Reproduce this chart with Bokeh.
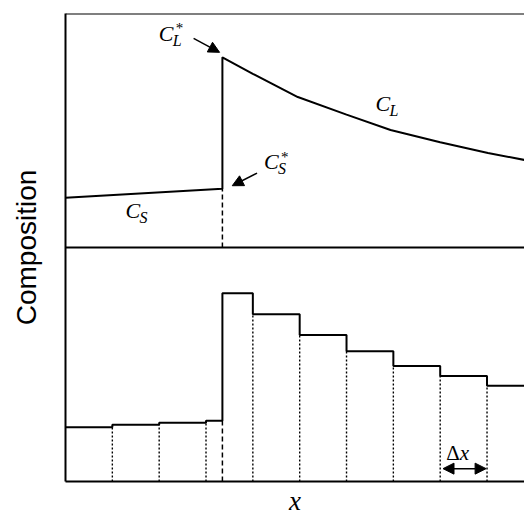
import numpy as np
from bokeh.plotting import figure
from bokeh.models import Range1d, Span, Label, Arrow, NormalHead, FixedTicker
from bokeh.embed import file_html
from bokeh.resources import INLINE

# x measured in units of the cell width (delta x)
x_interface = 3.35
x_end = 9.8

# Top panel: continuous composition profile (panel height = 1 composition unit)
solid_x = [0.0, 3.35]
solid_c = [0.213, 0.251]
liquid_x = [3.35, 4.0, 4.96, 6.0, 6.94, 8.0, 9.02, 9.8]
liquid_c = [0.813, 0.742, 0.643, 0.568, 0.502, 0.450, 0.404, 0.374]

# Bottom panel: cell-averaged composition
cell_edges = [0.0, 1.0, 2.0, 3.0, 3.35, 4.0, 5.0, 6.0, 7.0, 8.0, 9.0, 9.8]
cell_c = [0.232, 0.243, 0.251, 0.260, 0.804, 0.715, 0.626, 0.557, 0.494, 0.451, 0.409]

top_offset = 1.0  # top panel sits above the bottom panel

p = figure(width=524, height=518, output_backend="svg", toolbar_location=None,
           x_range=Range1d(0, x_end), y_range=Range1d(0, 2),
           min_border_left=65, min_border_right=0, min_border_top=13, min_border_bottom=35)
p.outline_line_color = None
p.grid.visible = False
p.background_fill_color = "white"
p.border_fill_color = "white"
for ax in (p.xaxis[0], p.yaxis[0]):
    ax.ticker = FixedTicker(ticks=[])
    ax.major_tick_line_color = None
    ax.minor_tick_line_color = None
    ax.major_tick_out = 0
    ax.major_tick_in = 0
    ax.minor_tick_out = 0
    ax.major_label_standoff = 0
    ax.major_label_text_font_size = "0px"
    ax.axis_line_width = 2
    ax.axis_line_color = "black"
    ax.axis_label_text_color = "black"
    ax.axis_label_text_font_style = "normal"

p.xaxis.axis_label = "x"
p.xaxis.axis_label_text_font = "Liberation Serif"
p.xaxis.axis_label_text_font_style = "italic"
p.xaxis.axis_label_text_font_size = "27px"
p.xaxis.axis_label_standoff = 4

p.yaxis.axis_label = "Composition"
p.yaxis.axis_label_text_font = "Liberation Sans"
p.yaxis.axis_label_text_font_size = "28px"
p.yaxis.axis_label_standoff = 24

# frame lines: top border and panel separator
p.add_layout(Span(location=2, dimension="width", line_color="black", line_width=2))
p.add_layout(Span(location=1, dimension="width", line_color="black", line_width=2))

# --- top panel ---
prof_x = solid_x + liquid_x
prof_y = [c + top_offset for c in solid_c] + [c + top_offset for c in liquid_c]
p.line(prof_x, prof_y, line_color="black", line_width=2)
p.segment(x0=[x_interface], y0=[top_offset], x1=[x_interface], y1=[solid_c[-1] + top_offset],
          line_color="black", line_width=1.5, line_dash="5 3")

# --- bottom panel ---
sx, sy = [], []
for i, c in enumerate(cell_c):
    sx += [cell_edges[i], cell_edges[i + 1]]
    sy += [c, c]
p.line(sx, sy, line_color="black", line_width=2)

dx0, dy1, kx0, ky1 = [], [], [], []
for i in range(1, len(cell_c)):
    e = cell_edges[i]
    h = min(cell_c[i - 1], cell_c[i])
    if e == x_interface:
        kx0.append(e); ky1.append(h)
    else:
        dx0.append(e); dy1.append(h)
p.segment(x0=dx0, y0=[0] * len(dx0), x1=dx0, y1=dy1, line_color="black",
          line_width=1.4, line_dash="2 2")
p.segment(x0=kx0, y0=[0] * len(kx0), x1=kx0, y1=ky1, line_color="black",
          line_width=1.5, line_dash="5 3")

# --- annotations ---
SERIF = "Liberation Serif"
LIFT = 4  # px

def sym(x, y, main, sub, star=False):
    p.add_layout(Label(x=x, y=y, y_offset=LIFT, text=main, text_font=SERIF,
                       text_font_style="italic", text_color="black", text_font_size="22px",
                       text_align="left", text_baseline="alphabetic"))
    p.add_layout(Label(x=x, y=y, x_offset=14, y_offset=-7 + LIFT, text=sub, text_font=SERIF,
                       text_font_style="italic", text_font_size="16px", text_color="black",
                       text_align="left", text_baseline="alphabetic"))
    if star:
        p.add_layout(Label(x=x, y=y, x_offset=17, y_offset=5 + LIFT, text="*", text_font=SERIF,
                           text_font_size="15px", text_align="left", text_color="black",
                           text_baseline="alphabetic"))

sym(1.99, 1.898, "C", "L", star=True)
sym(4.24, 1.350, "C", "S", star=True)
sym(1.28, 1.143, "C", "S")
sym(6.62, 1.597, "C", "L")

def arrow(x0, y0, x1, y1, start=False):
    head = lambda: NormalHead(size=11, fill_color="black", line_color="black")
    p.add_layout(Arrow(x_start=x0, y_start=y0, x_end=x1, y_end=y1, line_width=1.5,
                       line_color="black", end=head(), start=head() if start else None))

arrow(2.735, 1.894, 3.29, 1.834)
arrow(4.09, 1.318, 3.56, 1.264)
arrow(cell_edges[9] + 0.06, 0.055, cell_edges[10] - 0.02, 0.055, start=True)

p.add_layout(Label(x=8.42, y=0.105, y_offset=LIFT, text="Δ", text_font=SERIF,
                   text_font_size="21px", text_color="black", text_align="right",
                   text_baseline="alphabetic"))
p.add_layout(Label(x=8.42, y=0.105, y_offset=LIFT, text="x", text_font=SERIF,
                   text_font_style="italic", text_color="black", text_font_size="21px",
                   text_align="left", text_baseline="alphabetic"))

open("out.html", "w").write(file_html(p, INLINE))
